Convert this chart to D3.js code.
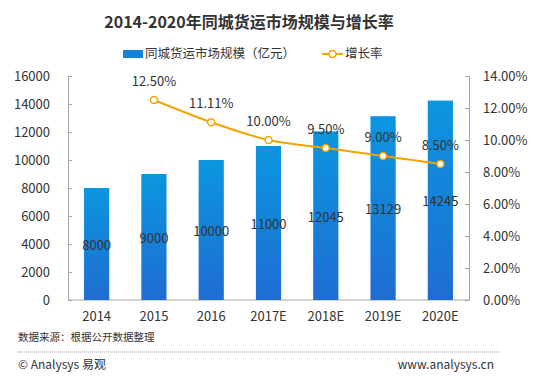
<!DOCTYPE html>
<html>
<head>
<meta charset="utf-8">
<script src="https://cdn.jsdelivr.net/npm/d3@7"></script>
<style>
  body { margin: 0; background: #fff; }
  text { font-family: "Noto Sans CJK SC", "Noto Sans", sans-serif; }
</style>
</head>
<body>
<div id="chart"></div>
<script>
// chart data
const years = ['2014', '2015', '2016', '2017E', '2018E', '2019E', '2020E'];
const marketSize = [8000, 9000, 10000, 11000, 12045, 13129, 14245];
const growthYears = ['2015', '2016', '2017E', '2018E', '2019E', '2020E'];
const growthRate = [12.5, 11.11, 10.0, 9.5, 9.0, 8.5];
const leftTicks = [0, 2000, 4000, 6000, 8000, 10000, 12000, 14000, 16000];
const rightTicks = [0, 2, 4, 6, 8, 10, 12, 14];

const width = 556, height = 376;
const margin = { top: 76, right: 87, bottom: 76, left: 68 };

const svg = d3.select('#chart').append('svg')
    .attr('width', width)
    .attr('height', height);

const defs = svg.append('defs');
const grad = defs.append('linearGradient')
    .attr('id', 'barGrad')
    .attr('x1', 0).attr('y1', 0).attr('x2', 0).attr('y2', 1);
grad.append('stop').attr('offset', '0%').attr('stop-color', '#0b96df');
grad.append('stop').attr('offset', '100%').attr('stop-color', '#1f6dd2');

const x = d3.scaleBand()
    .domain(years)
    .range([margin.left, width - margin.right])
    .paddingInner(0.56)
    .paddingOuter(0.28);

const yLeft = d3.scaleLinear()
    .domain([0, 16000])
    .range([height - margin.bottom, margin.top]);

const yRight = d3.scaleLinear()
    .domain([0, 14])
    .range([height - margin.bottom, margin.top]);

// title
svg.append('text')
    .attr('x', 249).attr('y', 28)
    .attr('text-anchor', 'middle')
    .style('font-size', '16px')
    .style('font-weight', 'bold')
    .style('fill', '#333')
    .text('2014-2020年同城货运市场规模与增长率');

// legend
const legend = svg.append('g');
legend.append('rect')
    .attr('x', 123).attr('y', 50).attr('width', 20).attr('height', 8)
    .attr('fill', '#1482da');
legend.append('text')
    .attr('x', 145).attr('y', 58)
    .style('font-size', '12.5px').style('fill', '#333')
    .text('同城货运市场规模（亿元）');
legend.append('line')
    .attr('x1', 322).attr('x2', 343).attr('y1', 54).attr('y2', 54)
    .attr('stroke', '#f5a300').attr('stroke-width', 2);
legend.append('circle')
    .attr('cx', 332.5).attr('cy', 54).attr('r', 3.5)
    .attr('fill', '#fff').attr('stroke', '#f5a300').attr('stroke-width', 1.5);
legend.append('text')
    .attr('x', 345).attr('y', 58)
    .style('font-size', '12.5px').style('fill', '#333')
    .text('增长率');

// axes
const leftAxis = svg.append('g')
    .attr('transform', `translate(${margin.left},0)`)
    .call(d3.axisLeft(yLeft).tickValues(leftTicks).tickSize(-4).tickPadding(18).tickFormat(d3.format('d')));

const rightAxis = svg.append('g')
    .attr('transform', `translate(${width - margin.right},0)`)
    .call(d3.axisRight(yRight).tickValues(rightTicks).tickSize(-4).tickPadding(14).tickFormat(d => d.toFixed(2) + '%'));

const bottomAxis = svg.append('g')
    .attr('transform', `translate(0,${height - margin.bottom})`)
    .call(d3.axisBottom(x).tickSize(0).tickPadding(12));

[leftAxis, rightAxis, bottomAxis].forEach(a => {
    a.select('.domain').attr('stroke', '#a6a6a6');
    a.selectAll('.tick line').attr('stroke', '#a6a6a6');
    a.selectAll('.tick text')
        .style('font-size', '13px')
        .style('fill', '#333')
        .style('font-family', '"Noto Sans CJK SC", "Noto Sans", sans-serif');
});
bottomAxis.select('.domain').attr('d', `M${margin.left},0H${width - margin.right}`);

// bars
svg.append('g').selectAll('rect')
    .data(marketSize)
    .join('rect')
    .attr('x', (d, i) => x(years[i]))
    .attr('y', d => yLeft(d))
    .attr('width', x.bandwidth())
    .attr('height', d => yLeft(0) - yLeft(d))
    .attr('fill', 'url(#barGrad)');

svg.append('g').selectAll('text')
    .data(marketSize)
    .join('text')
    .attr('x', (d, i) => x(years[i]) + x.bandwidth() / 2)
    .attr('y', d => (yLeft(d) + yLeft(0)) / 2 + 6)
    .attr('text-anchor', 'middle')
    .style('font-size', '13px')
    .style('fill', '#333')
    .text(d => d);

// growth line
const cx = (d, i) => x(growthYears[i]) + x.bandwidth() / 2;
const line = d3.line()
    .x(cx)
    .y(d => yRight(d))
    .curve(d3.curveMonotoneX);

svg.append('path')
    .datum(growthRate)
    .attr('d', line)
    .attr('fill', 'none')
    .attr('stroke', '#f5a300')
    .attr('stroke-width', 2);

svg.append('g').selectAll('circle')
    .data(growthRate)
    .join('circle')
    .attr('cx', cx)
    .attr('cy', d => yRight(d))
    .attr('r', 3.5)
    .attr('fill', '#fff')
    .attr('stroke', '#f5a300')
    .attr('stroke-width', 1.5);

svg.append('g').selectAll('text')
    .data(growthRate)
    .join('text')
    .attr('x', cx)
    .attr('y', d => yRight(d) - 14)
    .attr('text-anchor', 'middle')
    .style('font-size', '13px')
    .style('fill', '#333')
    .text(d => d.toFixed(2) + '%');

// footer
svg.append('text')
    .attr('x', 18).attr('y', 341)
    .style('font-size', '10.5px').style('fill', '#333')
    .text('数据来源：根据公开数据整理');

svg.append('line')
    .attr('x1', 18).attr('x2', 499).attr('y1', 352).attr('y2', 352)
    .attr('stroke', '#999').attr('stroke-dasharray', '1,1');

svg.append('text')
    .attr('x', 18).attr('y', 369)
    .style('font-size', '12px').style('fill', '#333')
    .text('© Analysys 易观');

svg.append('text')
    .attr('x', 494).attr('y', 369)
    .attr('text-anchor', 'end')
    .style('font-size', '12px').style('fill', '#333')
    .text('www.analysys.cn');
</script>
</body>
</html>
